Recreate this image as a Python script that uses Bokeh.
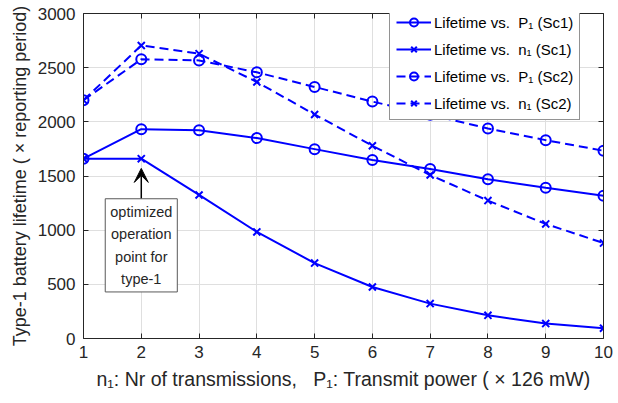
from bokeh.plotting import figure
from bokeh.models import (LinearAxis, Range1d, Legend, LegendItem, Label, Arrow,
                          VeeHead, FixedTicker)
from bokeh.embed import file_html
from bokeh.resources import INLINE

# ---------------- data ----------------
x_vals = [1, 2, 3, 4, 5, 6, 7, 8, 9, 10]
life_P1_sc1 = [1660, 1932, 1923, 1850, 1748, 1647, 1564, 1469, 1392, 1318]
life_n1_sc1 = [1660, 1660, 1325, 984, 696, 475, 322, 214, 138, 95]
life_P1_sc2 = [2200, 2577, 2567, 2457, 2322, 2187, 2065, 1939, 1831, 1733]
life_n1_sc2 = [2200, 2705, 2629, 2368, 2068, 1779, 1509, 1273, 1058, 881]
x_ticks = [1, 2, 3, 4, 5, 6, 7, 8, 9, 10]
y_ticks = [0, 500, 1000, 1500, 2000, 2500, 3000]
NB = "\u00a0"
legend_labels = ["Lifetime vs." + NB + " P\u2081 (Sc1)", "Lifetime vs." + NB + " n\u2081 (Sc1)",
                 "Lifetime vs." + NB + " P\u2081 (Sc2)", "Lifetime vs." + NB + " n\u2081 (Sc2)"]
annot_text = "optimized\noperation\npoint for\ntype-1"
annot_x = 2
annot_tip = 1570
annot_tail = 1290
x_label = ("n\u2081: Nr of transmissions," + NB + NB + " P\u2081: Transmit power ( \u00d7 126 mW)")
y_label = "Type-1 battery lifetime ( \u00d7 reporting period)"

FONT = "Liberation Sans"
AX = "#262626"
BLUE = "#0000ff"

p = figure(width=618, height=403, x_range=Range1d(1, 10), y_range=Range1d(0, 3000),
           toolbar_location=None, output_backend="svg",
           min_border_left=83, min_border_right=15, min_border_top=13, min_border_bottom=65)
p.outline_line_color = None
p.background_fill_color = "white"

def style_axis(ax, ticks, labels=True):
    ax.ticker = FixedTicker(ticks=ticks)
    ax.axis_line_color = AX
    ax.axis_line_width = 1
    ax.major_tick_line_color = AX
    ax.major_tick_in = 5
    ax.major_tick_out = 0
    ax.minor_tick_line_color = None
    ax.major_label_text_font = FONT
    ax.major_label_text_color = AX
    if labels:
        ax.major_label_text_font_size = "17px"
    else:
        ax.major_label_overrides = {t: "" for t in ticks}
        ax.major_label_text_font_size = "1px"
        ax.major_label_standoff = 0

style_axis(p.xaxis[0], x_ticks)
style_axis(p.yaxis[0], y_ticks)
p.xaxis.major_label_standoff = 7
p.yaxis.major_label_standoff = 8

for ax, lab, fs, so in ((p.xaxis[0], x_label, "19.5px", 7), (p.yaxis[0], y_label, "18px", 5)):
    ax.axis_label = lab
    ax.axis_label_text_font = FONT
    ax.axis_label_text_font_size = fs
    ax.axis_label_text_font_style = "normal"
    ax.axis_label_text_color = AX
    ax.axis_label_standoff = so

ax_r = LinearAxis()
style_axis(ax_r, y_ticks, labels=False)
p.add_layout(ax_r, "right")
ax_t = LinearAxis()
style_axis(ax_t, x_ticks, labels=False)
p.add_layout(ax_t, "above")

p.xgrid.ticker = FixedTicker(ticks=x_ticks)
p.ygrid.ticker = FixedTicker(ticks=y_ticks)
for g in (p.xgrid[0], p.ygrid[0]):
    g.grid_line_color = "#dfdfdf"
    g.grid_line_width = 1

# ---------------- series ----------------
series = [
    (life_P1_sc1, "circle", "solid"),
    (life_n1_sc1, "x", "solid"),
    (life_P1_sc2, "circle", "9 5"),
    (life_n1_sc2, "x", "9 5"),
]
items = []
for (vals, marker, dash), lab in zip(series, legend_labels):
    ln = p.line(x_vals, vals, line_color=BLUE, line_width=2, line_dash=dash)
    sc = p.scatter(x_vals, vals, marker=marker, size=10, line_color=BLUE,
                   fill_color=None, line_width=2)
    items.append(LegendItem(label=lab, renderers=[ln, sc]))

legend = Legend(items=items, location=(306, 218))
legend.border_line_color = AX
legend.border_line_width = 1
legend.background_fill_color = "white"
legend.background_fill_alpha = 1
legend.label_text_font = FONT
legend.label_text_font_size = "15px"
legend.label_text_color = "black"
legend.glyph_width = 35
legend.glyph_height = 20
legend.label_height = 20
legend.label_standoff = 3
legend.spacing = 7
legend.padding = 6
legend.margin = 0
p.add_layout(legend)

# ---------------- annotation ----------------
p.add_layout(Arrow(end=VeeHead(size=14, fill_color="black", line_color="black", line_width=1),
                   x_start=annot_x, y_start=annot_tail, x_end=annot_x, y_end=annot_tip,
                   line_color="black", line_width=1.5))
p.add_layout(Label(x=annot_x, y=annot_tail, text=annot_text, text_align="center",
                   text_baseline="top", text_font=FONT, text_font_size="14.5px",
                   text_color=AX, text_line_height=1.4, padding=5,
                   border_line_color="#595959", border_line_width=1,
                   background_fill_color="white"))

open("out.html", "w").write(file_html(p, INLINE))
